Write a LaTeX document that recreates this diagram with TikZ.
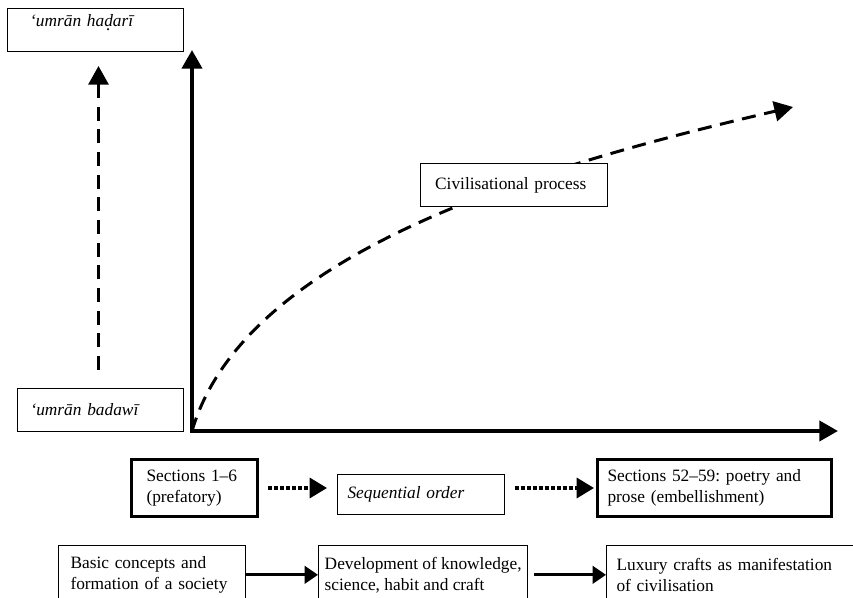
\documentclass[tikz,border=0pt]{standalone}
\usepackage{fontspec}
\setmainfont{Liberation Serif}
\usetikzlibrary{arrows.meta,positioning}
\frenchspacing

\newcommand{\dotunder}[1]{\oalign{#1\crcr\hidewidth.\hidewidth}}

\tikzset{
  box/.style={draw, fill=white, line width=0.75pt, anchor=north west, align=left,
    inner ysep=0pt, font=\fontsize{13}{15.75}\selectfont},
  thickbox/.style={box, line width=2.25pt},
  axis/.style={line width=3pt, line cap=rect, -{Triangle[length=14pt,width=15pt]}},
  dasharrow/.style={line width=2.25pt, dash pattern=on 10.5pt off 6.5pt, -{Triangle[length=14pt,width=15pt]}},
  dotarrow/.style={line width=2.5pt, dash pattern=on 3pt off 1.5pt, -{Triangle[length=13pt,width=15pt]}},
  steparrow/.style={line width=2.25pt, -{Triangle[length=10pt,width=13pt]}},
}

\begin{document}
\begin{tikzpicture}[x=0.75pt, y=-0.75pt]
  \useasboundingbox (0,0) rectangle (853,598);
  \clip (0,0) rectangle (853,598);

  % axes and the process curve
  \coordinate (origin) at (192,431);
  \coordinate (ytip) at (192,50);
  \coordinate (xtip) at (838,431);
  \coordinate (procend) at (793,107);

  \draw[axis] (origin) -- (ytip);
  \draw[axis] (origin) -- (xtip);
  \draw[dasharrow] (origin) .. controls (245,250) and (545,165) .. (procend);

  % input nodes position and text
  \node[box, inner xsep=17pt, text width=98pt, minimum height=32.25pt, text depth=14pt] (hadari) at (7,8) {\textit{‘umrān ha\dotunder{d}arī}};
  \node[box, inner xsep=9.75pt, text width=105pt, minimum height=32.25pt] (badawi) at (17,388) {\textit{‘umrān badawī}};
  \node[box, inner xsep=11pt, text width=118pt, minimum height=32.25pt] (civ) at (420,163) {Civilisational process};

  \node[thickbox, inner xsep=11.25pt, text width=72pt, minimum height=42.75pt] (sec16) at (130,458) {Sections 1–6\\(prefatory)};
  \node[box, inner xsep=7.5pt, text width=110pt, minimum height=30pt] (seq) at (337,474) {\textit{Sequential order}};
  \node[thickbox, inner xsep=7.5pt, text width=160.5pt, minimum height=42.75pt] (sec52) at (596,458) {Sections 52–59: poetry and\\prose (embellishment)};

  \node[box, inner xsep=9pt, text width=122pt, minimum height=44pt] (basic) at (58,545) {Basic concepts and\\formation of a society};
  \node[box, inner xsep=3pt, minimum width=157pt, minimum height=44pt] (dev) at (318,545) {Development of knowledge,\\science, habit and craft};
  \node[box, inner xsep=7.5pt, text width=183pt, minimum height=44pt] (lux) at (606,545) {Luxury crafts as manifestation\\of civilisation};

  \draw[dasharrow] ([xshift=2.25pt, yshift=13.5pt]badawi.north -| hadari.south) -- ([xshift=2.25pt, yshift=-10.5pt]hadari.south);

  \draw[dotarrow] ([xshift=6.75pt]sec16.east) -- ([xshift=-7.5pt]sec16.east -| seq.west);
  \draw[dotarrow] ([xshift=7.5pt]seq.east |- sec52.west) -- ([xshift=-1.5pt]sec52.west);

  \draw[steparrow] (basic.east) -- (dev.west);
  \draw[steparrow] ([xshift=4.5pt]dev.east) -- (lux.west);
\end{tikzpicture}
\end{document}
